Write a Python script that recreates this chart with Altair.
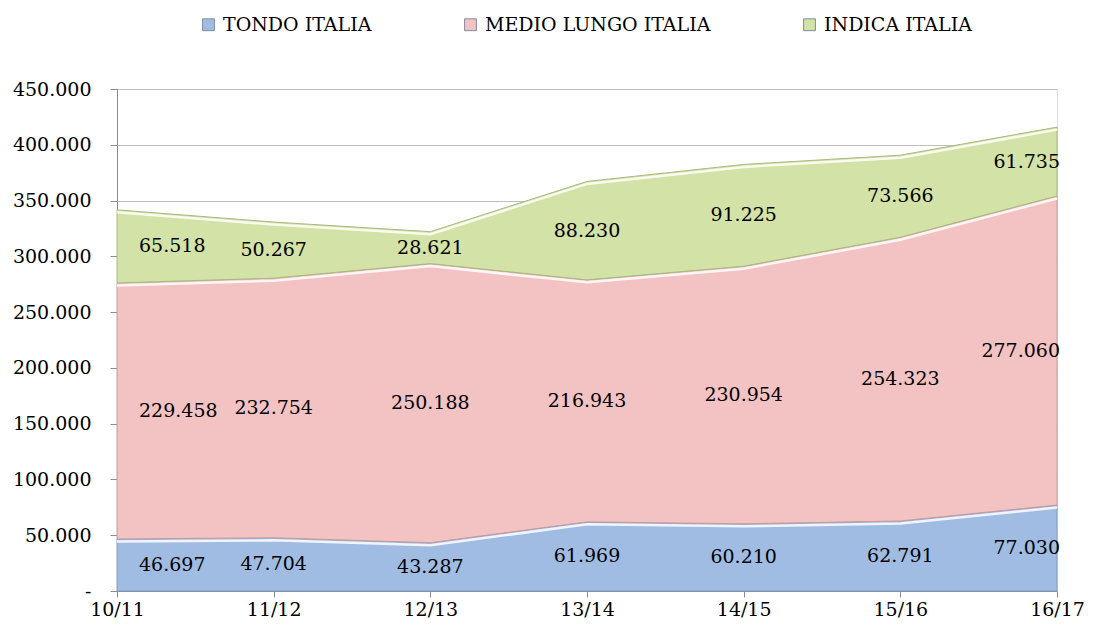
import altair as alt
import pandas as pd

years = ["10/11", "11/12", "12/13", "13/14", "14/15", "15/16", "16/17"]
series_names = ["TONDO ITALIA", "MEDIO LUNGO ITALIA", "INDICA ITALIA"]
tondo = [46697, 47704, 43287, 61969, 60210, 62791, 77030]
medio = [229458, 232754, 250188, 216943, 230954, 254323, 277060]
indica = [65518, 50267, 28621, 88230, 91225, 73566, 61735]
colors = ["#A0BCE3", "#F3C3C3", "#D3E2A7"]
edge_colors = ["#7F9CC4", "#C99A9A", "#A8BA7C"]
y_ticks = [0, 50000, 100000, 150000, 200000, 250000, 300000, 350000, 400000, 450000]

rows = []
for i, y in enumerate(years):
    lo = 0
    for k, (name, vals) in enumerate(zip(series_names, [tondo, medio, indica])):
        v = vals[i]
        rows.append({"year": y, "series": name, "value": v, "lo": lo, "hi": lo + v,
                     "mid": lo + v / 2, "order": k, "idx": i})
        lo += v
df = pd.DataFrame(rows)

FONT = "DejaVu Serif"
x = alt.X("year:O", sort=years, scale=alt.Scale(type="point", padding=0),
          axis=alt.Axis(title=None, labelAngle=0, labelFont=FONT, labelFontSize=19,
                        labelColor="#000000", domainColor="#8C8C8C", tickColor="#8C8C8C",
                        tickSize=6, labelPadding=3, grid=False))
yscale = alt.Scale(domain=[0, 450000], nice=False)
yaxis = alt.Axis(title=None, values=y_ticks, labelFont=FONT,
                 labelFontSize=19, labelColor="#000000", domainColor="#8C8C8C",
                 tickColor="#8C8C8C", tickSize=7, gridColor="#BFBFBF",
                 labelPadding=19,
                 labelExpr="datum.value == 0 ? '-  ' : format(datum.value, ',')")

base = alt.Chart(df)

areas = base.mark_area(strokeWidth=1, opacity=1).encode(
    x=x,
    y=alt.Y("hi:Q", scale=yscale, axis=yaxis),
    y2="lo:Q",
    color=alt.Color("series:N", sort=series_names,
                    scale=alt.Scale(domain=series_names, range=colors),
                    legend=alt.Legend(title=None, orient="none", direction="horizontal",
                                      legendX=82, legendY=-74, symbolType="square",
                                      symbolSize=140, symbolStrokeWidth=1,
                                      symbolStrokeColor="#7F8C9C",
                                      labelFont=FONT, labelFontSize=19, labelColor="#000000",
                                      labelLimit=500, columnPadding=89, symbolOffset=0,
                                      labelOffset=5, padding=0)),
    stroke=alt.Stroke("series:N", scale=alt.Scale(domain=series_names, range=edge_colors),
                      legend=None),
    order=alt.Order("order:Q"),
)

highlight = base.mark_line(color="white", strokeWidth=2.5, opacity=0.85, yOffset=2.5).encode(
    x=x, y=alt.Y("hi:Q", scale=yscale, axis=yaxis), detail="series:N")

txt_style = dict(font=FONT, fontSize=19, color="#000000", baseline="middle")
lab_first = base.transform_filter("datum.idx == 0").mark_text(align="left", dx=22, **txt_style).encode(
    x=x, y=alt.Y("mid:Q", scale=yscale, axis=yaxis), text=alt.Text("value:Q", format=","))
lab_mid = base.transform_filter("datum.idx > 0 && datum.idx < 6").mark_text(align="center", **txt_style).encode(
    x=x, y=alt.Y("mid:Q", scale=yscale, axis=yaxis), text=alt.Text("value:Q", format=","))
lab_last = base.transform_filter("datum.idx == 6").mark_text(align="right", dx=3, **txt_style).encode(
    x=x, y=alt.Y("mid:Q", scale=yscale, axis=yaxis), text=alt.Text("value:Q", format=","))

chart = alt.layer(areas, highlight, lab_first, lab_mid, lab_last).resolve_scale(
    color="independent"
).properties(
    width=940, height=502,
    autosize=alt.AutoSizeParams(type="none"),
    padding={"left": 109, "top": 81, "right": 29, "bottom": 32},
).configure_view(stroke=None).configure(background="white")

chart.save("out.html", embed_options={
    "renderer": "svg", "actions": False,
    "formatLocale": {"decimal": ",", "thousands": ".", "grouping": [3], "currency": ["€", ""]},
})
